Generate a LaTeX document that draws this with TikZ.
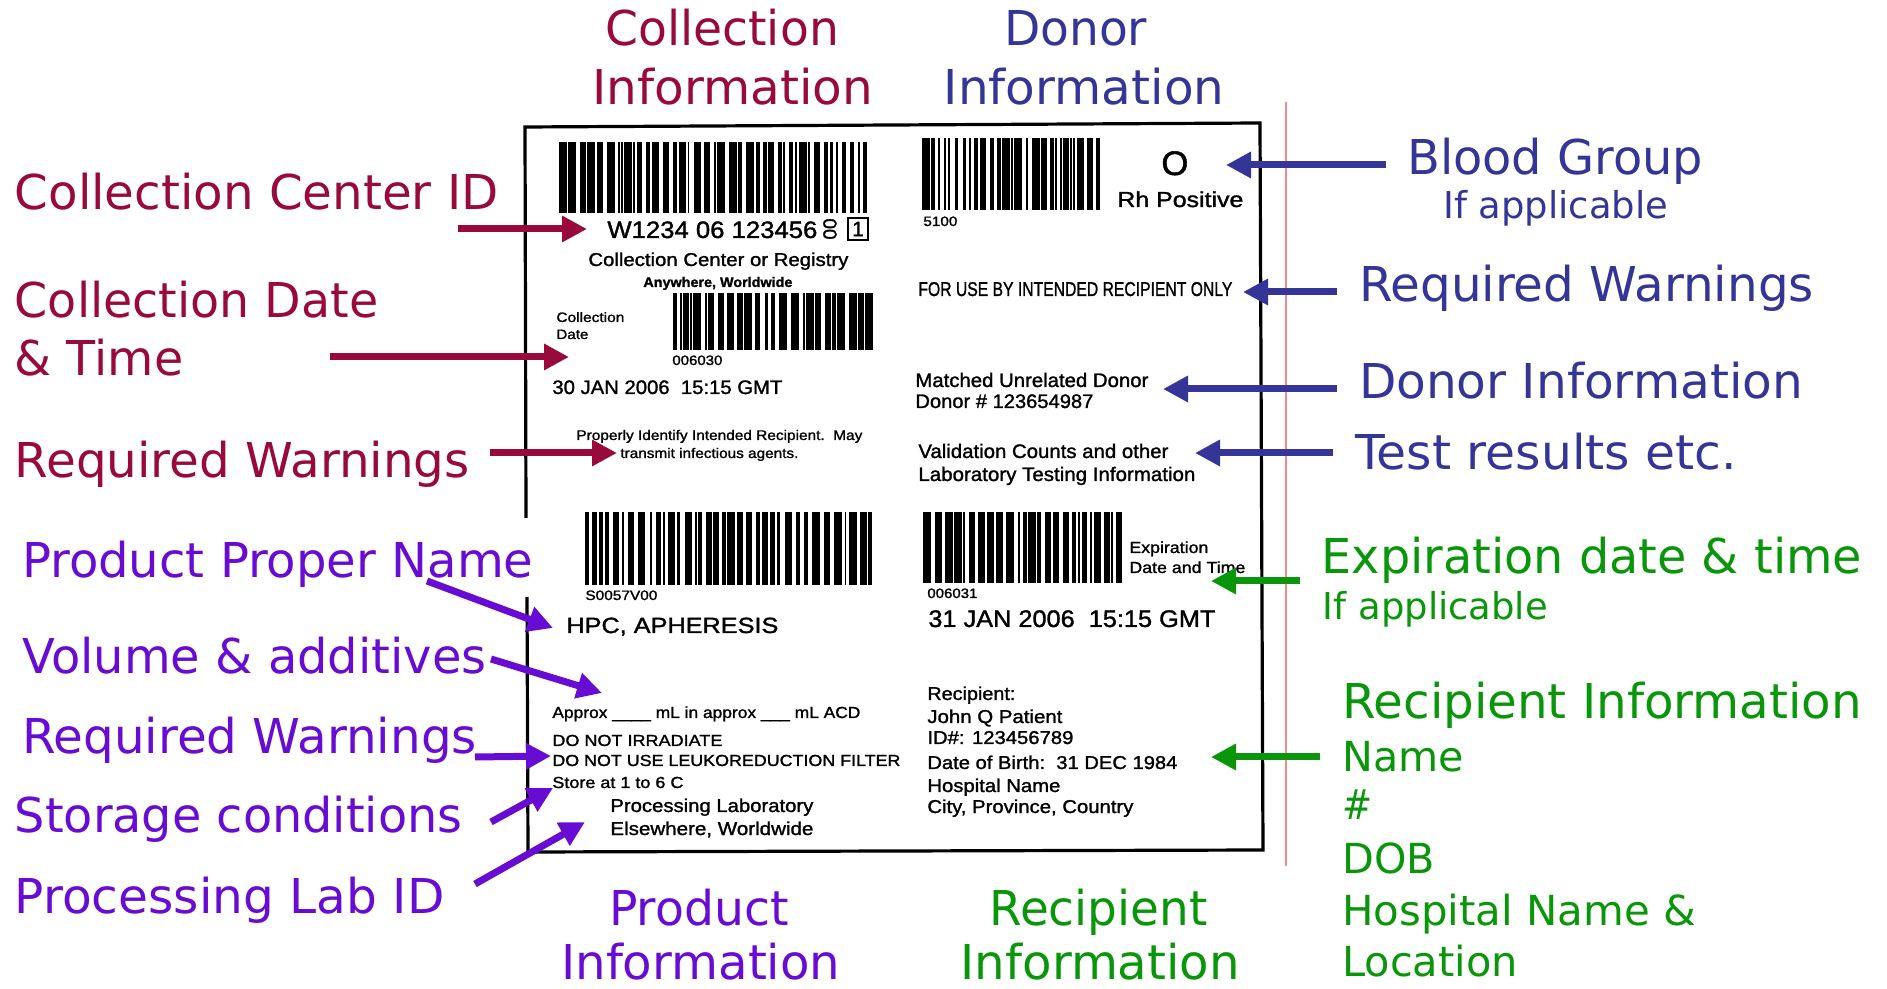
\documentclass[tikz,border=0pt]{standalone}
\usepackage{fontspec}
\usepackage{graphicx}
\usetikzlibrary{arrows.meta}
\newfontfamily\lab[FakeBold=1.3]{Liberation Sans}
\newfontfamily\dv{DejaVu Sans}
\newdimen\pxu \pxu=0.5pt
\newcommand\fw[2]{\resizebox{#1\pxu}{\height}{#2}}
\newcommand\fs[1]{\fontsize{#1}{#1}\selectfont}
\definecolor{crim}{RGB}{153,10,60}
\definecolor{dblue}{RGB}{53,53,151}
\definecolor{dgreen}{RGB}{10,150,10}
\definecolor{purp}{RGB}{104,12,212}
\definecolor{pinkline}{RGB}{240,140,140}
\newcommand\barcode[5]{%
  \pgfmathsetseed{#5}%
  \xdef\bcx{#1}%
  \foreach \bcidx in {1,...,160}{%
    \pgfmathsetmacro\bcw{random(1,4)*1.9}%
    \pgfmathsetmacro\bcs{random(1,3)*1.4}%
    \pgfmathsetmacro\bcend{min(\bcx+\bcw,#3)}%
    \pgfmathtruncatemacro\bcok{\bcx<(#3-1) ? 1 : 0}%
    \ifnum\bcok=1
      \fill[black] (\bcx,#2) rectangle (\bcend,#4);
    \fi
    \pgfmathsetmacro\bcnx{\bcx+\bcw+\bcs}%
    \xdef\bcx{\bcnx}%
  }%
  \fill[black] (#3-4,#2) rectangle (#3,#4);
}
\tikzset{
  lbl/.style={anchor=base west, inner sep=0pt, font=\dv\fs{24pt}},
  sml/.style={anchor=base west, inner sep=0pt, font=\dv\fs{18.5pt}},
  mid/.style={anchor=base west, inner sep=0pt, font=\dv\fs{20.7pt}},
  t/.style={anchor=base west, inner sep=0pt, text=black},
  arr/.style={line width=3.5pt, -{Triangle[length=12.5pt,width=12.5pt]}},
  border/.style={line width=1.6pt, black},
}
\begin{document}
\begin{tikzpicture}[x=0.5pt,y=-0.5pt]
\useasboundingbox (0,0) rectangle (1887,989);
\fill[white] (0,0) rectangle (1887,989);

% label border
\draw[border] (526,518) -- (525,127) -- (1260,123) -- (1263,850) -- (528,852) -- (527,597);
% pink line
\draw[pinkline, line width=0.8pt] (1286,102) -- (1286,866);

% barcodes
\barcode{559}{142}{867}{213}{11}
\barcode{922}{138}{1100}{210}{23}
\barcode{673}{293}{873}{350}{37}
\barcode{585}{512}{872}{585}{41}
\barcode{923}{512}{1122}{583}{59}

% label text
\node[t, font=\lab\fs{11.9pt}] (w1) at (607,238) {\fw{210}{W1234 06 123456}};
\node[t, font=\lab\fs{9.5pt}, rotate=90, anchor=center] (flag) at (830,229) {00};
\node[draw, line width=0.9pt, inner sep=0pt, minimum width=10pt, minimum height=11pt, font=\lab\fs{10.5pt}] (box1) at (858,229) {1};
\node[t, font=\lab\fs{9.3pt}] (ccr) at (588,266) {\fw{260}{Collection Center or Registry}};
\node[t, font=\lab\bfseries\fs{7pt}] (aww) at (643,287) {\fw{149}{Anywhere, Worldwide}};
\node[t, font=\lab\fs{6.8pt}] (cdl1) at (556,322) {\fw{68}{Collection}};
\node[t, font=\lab\fs{6.8pt}] (cdl2) at (556,339) {\fw{32}{Date}};
\node[t, font=\lab\fs{6.8pt}] (c06030) at (672,365) {\fw{50}{006030}};
\node[t, font=\lab\fs{9.75pt}] (cdate) at (552,394) {\fw{230}{30 JAN 2006\ \ 15:15 GMT}};
\node[t, font=\lab\fs{7pt}] (pw1) at (576,440) {\fw{286}{Properly Identify Intended Recipient.\ \ May}};
\node[t, font=\lab\fs{7pt}] (pw2) at (620,458) {\fw{178}{transmit infectious agents.}};

\node[t, font=\lab\fs{17pt}] (bgO) at (1161,175) {\fw{27}{O}};
\node[t, font=\lab\fs{10.8pt}] (rh) at (1117,207) {\fw{126}{Rh Positive}};
\node[t, font=\lab\fs{6.8pt}] (c5100) at (923,226) {\fw{34}{5100}};
\node[t, font=\lab\fs{10pt}] (fuse) at (918,296) {\fw{314}{FOR USE BY INTENDED RECIPIENT ONLY}};
\node[t, font=\lab\fs{9.8pt}] (mud) at (915,387) {\fw{233}{Matched Unrelated Donor}};
\node[t, font=\lab\fs{9.8pt}] (dno) at (915,408) {\fw{178}{Donor \# 123654987}};
\node[t, font=\lab\fs{9.8pt}] (vc1) at (918,458) {\fw{250}{Validation Counts and other}};
\node[t, font=\lab\fs{9.8pt}] (vc2) at (918,481) {\fw{277}{Laboratory Testing Information}};

\node[t, font=\lab\fs{6.8pt}] (s0057) at (585,600) {\fw{72}{S0057V00}};
\node[t, font=\lab\fs{11pt}] (hpc) at (566,633) {\fw{212}{HPC, APHERESIS}};
\node[t, font=\lab\fs{8pt}] (exp1) at (1129,553) {\fw{79}{Expiration}};
\node[t, font=\lab\fs{8pt}] (exp2) at (1129,573) {\fw{116}{Date and Time}};
\node[t, font=\lab\fs{6.8pt}] (c06031) at (927,598) {\fw{50}{006031}};
\node[t, font=\lab\fs{12pt}] (edate) at (928,627) {\fw{287}{31 JAN 2006\ \ 15:15 GMT}};

\node[t, font=\lab\fs{8pt}] (apx) at (552,718) {\fw{308}{Approx \_\_\_\_ mL in approx \_\_\_ mL ACD}};
\node[t, font=\lab\fs{8pt}] (dni) at (552,746) {\fw{170}{DO NOT IRRADIATE}};
\node[t, font=\lab\fs{8pt}] (dnu) at (552,766) {\fw{348}{DO NOT USE LEUKOREDUCTION FILTER}};
\node[t, font=\lab\fs{8pt}] (sto) at (552,788) {\fw{131}{Store at 1 to 6 C}};
\node[t, font=\lab\fs{9.3pt}] (plab) at (610,812) {\fw{203}{Processing Laboratory}};
\node[t, font=\lab\fs{9.3pt}] (elsw) at (610,835) {\fw{203}{Elsewhere, Worldwide}};

\node[t, font=\lab\fs{9.3pt}] (r1) at (927,700) {\fw{88}{Recipient:}};
\node[t, font=\lab\fs{9.3pt}] (r2) at (927,723) {\fw{135}{John Q Patient}};
\node[t, font=\lab\fs{9.3pt}] (r3) at (927,744) {\fw{146}{ID\#: 123456789}};
\node[t, font=\lab\fs{9.3pt}] (r4) at (927,769) {\fw{250}{Date of Birth:\ \ 31 DEC 1984}};
\node[t, font=\lab\fs{9.3pt}] (r5) at (927,792) {\fw{133}{Hospital Name}};
\node[t, font=\lab\fs{9.3pt}] (r6) at (927,813) {\fw{206}{City, Province, Country}};

% coloured labels
\node[lbl, text=crim] (ci1) at (605,45.7) {\fw{233.5}{Collection}};
\node[lbl, text=crim] (ci2) at (592,104.7) {\fw{280.4}{Information}};
\node[lbl, text=dblue] (di1) at (1003.6,45.7) {\fw{143.2}{Donor}};
\node[lbl, text=dblue] (di2) at (943.5,104.7) {\fw{280.4}{Information}};
\node[lbl, text=crim] (cci) at (14.4,209.4) {\fw{483.8}{Collection Center ID}};
\node[lbl, text=crim] (cdt1) at (14.4,317.7) {\fw{363.5}{Collection Date}};
\node[lbl, text=crim] (cdt2) at (14.4,375.5) {\fw{168.5}{\& Time}};
\node[lbl, text=crim] (rwc) at (14.4,477.7) {\fw{454.9}{Required Warnings}};
\node[lbl, text=purp] (ppn) at (21.7,577.6) {\fw{511.4}{Product Proper Name}};
\node[lbl, text=purp] (vol) at (21.7,673.9) {\fw{464.5}{Volume \& additives}};
\node[lbl, text=purp] (rwp) at (21.7,753.3) {\fw{454.8}{Required Warnings}};
\node[lbl, text=purp] (stc) at (14.4,832.8) {\fw{447.7}{Storage conditions}};
\node[lbl, text=purp] (pli) at (14.4,913.4) {\fw{429.7}{Processing Lab ID}};
\node[lbl, text=purp] (pi1) at (608.9,925) {\fw{179.3}{Product}};
\node[lbl, text=purp] (pi2) at (560.8,979) {\fw{279.2}{Information}};
\node[lbl, text=dgreen] (ri1) at (989.2,925) {\fw{217.8}{Recipient}};
\node[lbl, text=dgreen] (ri2) at (960.3,979) {\fw{279.2}{Information}};
\node[lbl, text=dblue] (bg) at (1406.8,174.5) {\fw{296}{Blood Group}};
\node[sml, text=dblue] (ifa1) at (1442.9,219) {\fw{225}{If applicable}};
\node[lbl, text=dblue] (rwb) at (1358.6,302) {\fw{454.9}{Required Warnings}};
\node[lbl, text=dblue] (dinf) at (1358.6,398.3) {\fw{444.1}{Donor Information}};
\node[lbl, text=dblue] (trs) at (1355,469.3) {\fw{381.5}{Test results etc.}};
\node[lbl, text=dgreen] (exd) at (1321.3,574) {\fw{540.4}{Expiration date \& time}};
\node[sml, text=dgreen] (ifa2) at (1322.5,619.8) {\fw{225}{If applicable}};
\node[lbl, text=dgreen] (rinf) at (1341.8,718.4) {\fw{519.9}{Recipient Information}};
\node[mid, text=dgreen] (rn1) at (1341.8,771.4) {\fw{121.5}{Name}};
\node[mid, text=dgreen] (rn2) at (1341.8,819.5) {\fw{30.1}{\#}};
\node[mid, text=dgreen] (rn3) at (1341.8,873.7) {\fw{92.7}{DOB}};
\node[mid, text=dgreen] (rn4) at (1341.8,925.4) {\fw{353.8}{Hospital Name \&}};
\node[mid, text=dgreen] (rn5) at (1341.8,976) {\fw{175.7}{Location}};

% arrow coordinates
\coordinate (a1s) at (458,229);  \coordinate (a1e) at (587,229);
\coordinate (a2s) at (330,357);  \coordinate (a2e) at (569,357);
\coordinate (a3s) at (490,453);  \coordinate (a3e) at (617,453);
\coordinate (b1s) at (1386,165); \coordinate (b1e) at (1226,165);
\coordinate (b2s) at (1337,292); \coordinate (b2e) at (1243,292);
\coordinate (b3s) at (1337,389); \coordinate (b3e) at (1163,389);
\coordinate (b4s) at (1333,453); \coordinate (b4e) at (1195,453);
\coordinate (g1s) at (1300,581); \coordinate (g1e) at (1211,581);
\coordinate (g2s) at (1320,757); \coordinate (g2e) at (1211,757);
\coordinate (p1s) at (427,581);  \coordinate (p1e) at (553,628);
\coordinate (p2s) at (491,659);  \coordinate (p2e) at (602,693);
\coordinate (p3s) at (475,757);  \coordinate (p3e) at (551,756);
\coordinate (p4s) at (491,822);  \coordinate (p4e) at (553,788);
\coordinate (p5s) at (475,884);  \coordinate (p5e) at (585,822);

\draw[arr, crim] (a1s) -- (a1e);
\draw[arr, crim] (a2s) -- (a2e);
\draw[arr, crim] (a3s) -- (a3e);
\draw[arr, dblue] (b1s) -- (b1e);
\draw[arr, dblue] (b2s) -- (b2e);
\draw[arr, dblue] (b3s) -- (b3e);
\draw[arr, dblue] (b4s) -- (b4e);
\draw[arr, dgreen] (g1s) -- (g1e);
\draw[arr, dgreen] (g2s) -- (g2e);
\draw[arr, purp] (p1s) -- (p1e);
\draw[arr, purp] (p2s) -- (p2e);
\draw[arr, purp] (p3s) -- (p3e);
\draw[arr, purp] (p4s) -- (p4e);
\draw[arr, purp] (p5s) -- (p5e);
\end{tikzpicture}
\end{document}
